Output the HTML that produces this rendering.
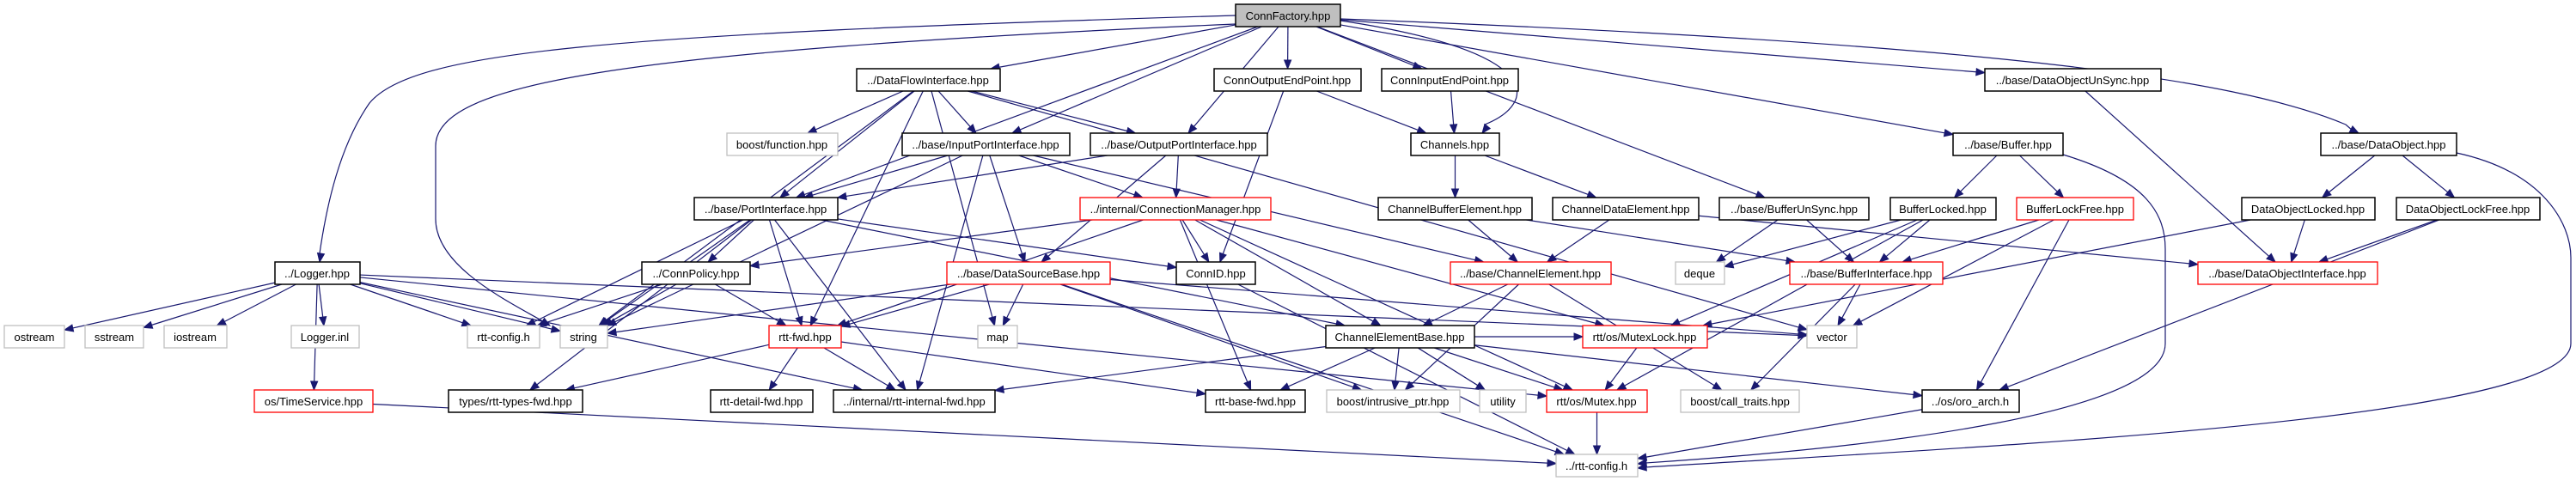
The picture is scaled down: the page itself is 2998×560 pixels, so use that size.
<!DOCTYPE html>
<html><head><meta charset="utf-8"><style>
html,body{margin:0;padding:0;background:#fff;}
svg{display:block;}
text{font-family:"Liberation Sans",sans-serif;font-size:13px;fill:#000;}
</style></head><body>
<svg id="g" width="2998" height="560" viewBox="0 0 2998 560" xmlns="http://www.w3.org/2000/svg">
<g id="edges"></g>
<g id="nodes">
<g id="cf" data-t="f"><rect x="1438" y="5" width="122" height="26"/><text x="1499" y="23" text-anchor="middle">ConnFactory.hpp</text></g>
<g id="dfi"><rect x="997" y="80" width="167" height="26"/><text x="1080" y="98" text-anchor="middle">../DataFlowInterface.hpp</text></g>
<g id="coep"><rect x="1413" y="80" width="171" height="26"/><text x="1498" y="98" text-anchor="middle">ConnOutputEndPoint.hpp</text></g>
<g id="ciep"><rect x="1608" y="80" width="159" height="26"/><text x="1687" y="98" text-anchor="middle">ConnInputEndPoint.hpp</text></g>
<g id="dous"><rect x="2310" y="80" width="205" height="26"/><text x="2412" y="98" text-anchor="middle">../base/DataObjectUnSync.hpp</text></g>
<g id="bfn" data-t="g"><rect x="846" y="155" width="129" height="26"/><text x="910" y="173" text-anchor="middle">boost/function.hpp</text></g>
<g id="ipi"><rect x="1050" y="155" width="195" height="26"/><text x="1147" y="173" text-anchor="middle">../base/InputPortInterface.hpp</text></g>
<g id="opi"><rect x="1269" y="155" width="206" height="26"/><text x="1372" y="173" text-anchor="middle">../base/OutputPortInterface.hpp</text></g>
<g id="chs"><rect x="1642" y="155" width="103" height="26"/><text x="1693" y="173" text-anchor="middle">Channels.hpp</text></g>
<g id="buf"><rect x="2273" y="155" width="128" height="26"/><text x="2337" y="173" text-anchor="middle">../base/Buffer.hpp</text></g>
<g id="dob"><rect x="2701" y="155" width="158" height="26"/><text x="2780" y="173" text-anchor="middle">../base/DataObject.hpp</text></g>
<g id="pi"><rect x="808" y="230" width="167" height="26"/><text x="891" y="248" text-anchor="middle">../base/PortInterface.hpp</text></g>
<g id="cm" data-t="r"><rect x="1257" y="230" width="222" height="26"/><text x="1368" y="248" text-anchor="middle">../internal/ConnectionManager.hpp</text></g>
<g id="cbe"><rect x="1604" y="230" width="179" height="26"/><text x="1693" y="248" text-anchor="middle">ChannelBufferElement.hpp</text></g>
<g id="cde"><rect x="1807" y="230" width="170" height="26"/><text x="1892" y="248" text-anchor="middle">ChannelDataElement.hpp</text></g>
<g id="bus"><rect x="2001" y="230" width="174" height="26"/><text x="2088" y="248" text-anchor="middle">../base/BufferUnSync.hpp</text></g>
<g id="bl"><rect x="2200" y="230" width="123" height="26"/><text x="2261" y="248" text-anchor="middle">BufferLocked.hpp</text></g>
<g id="blf" data-t="r"><rect x="2347" y="230" width="136" height="26"/><text x="2415" y="248" text-anchor="middle">BufferLockFree.hpp</text></g>
<g id="dol"><rect x="2609" y="230" width="155" height="26"/><text x="2686" y="248" text-anchor="middle">DataObjectLocked.hpp</text></g>
<g id="dolf"><rect x="2789" y="230" width="167" height="26"/><text x="2872" y="248" text-anchor="middle">DataObjectLockFree.hpp</text></g>
<g id="logger"><rect x="320" y="305" width="99" height="26"/><text x="369" y="323" text-anchor="middle">../Logger.hpp</text></g>
<g id="cp"><rect x="747" y="305" width="126" height="26"/><text x="810" y="323" text-anchor="middle">../ConnPolicy.hpp</text></g>
<g id="dsb" data-t="r"><rect x="1102" y="305" width="190" height="26"/><text x="1197" y="323" text-anchor="middle">../base/DataSourceBase.hpp</text></g>
<g id="cid"><rect x="1369" y="305" width="92" height="26"/><text x="1415" y="323" text-anchor="middle">ConnID.hpp</text></g>
<g id="ce" data-t="r"><rect x="1688" y="305" width="187" height="26"/><text x="1781" y="323" text-anchor="middle">../base/ChannelElement.hpp</text></g>
<g id="deque" data-t="g"><rect x="1950" y="305" width="57" height="26"/><text x="1978" y="323" text-anchor="middle">deque</text></g>
<g id="bi" data-t="r"><rect x="2083" y="305" width="178" height="26"/><text x="2172" y="323" text-anchor="middle">../base/BufferInterface.hpp</text></g>
<g id="doi" data-t="r"><rect x="2558" y="305" width="209" height="26"/><text x="2662" y="323" text-anchor="middle">../base/DataObjectInterface.hpp</text></g>
<g id="ostream" data-t="g"><rect x="5" y="379" width="70" height="26"/><text x="40" y="397" text-anchor="middle">ostream</text></g>
<g id="sstream" data-t="g"><rect x="99" y="379" width="68" height="26"/><text x="133" y="397" text-anchor="middle">sstream</text></g>
<g id="iostream" data-t="g"><rect x="191" y="379" width="73" height="26"/><text x="227" y="397" text-anchor="middle">iostream</text></g>
<g id="linl" data-t="g"><rect x="339" y="379" width="79" height="26"/><text x="378" y="397" text-anchor="middle">Logger.inl</text></g>
<g id="rcfg" data-t="g"><rect x="544" y="379" width="84" height="26"/><text x="586" y="397" text-anchor="middle">rtt-config.h</text></g>
<g id="string" data-t="g"><rect x="652" y="379" width="55" height="26"/><text x="679" y="397" text-anchor="middle">string</text></g>
<g id="rfwd" data-t="r"><rect x="895" y="379" width="84" height="26"/><text x="937" y="397" text-anchor="middle">rtt-fwd.hpp</text></g>
<g id="map" data-t="g"><rect x="1138" y="379" width="46" height="26"/><text x="1161" y="397" text-anchor="middle">map</text></g>
<g id="ceb"><rect x="1543" y="379" width="173" height="26"/><text x="1629" y="397" text-anchor="middle">ChannelElementBase.hpp</text></g>
<g id="ml" data-t="r"><rect x="1842" y="379" width="145" height="26"/><text x="1914" y="397" text-anchor="middle">rtt/os/MutexLock.hpp</text></g>
<g id="vector" data-t="g"><rect x="2103" y="379" width="58" height="26"/><text x="2132" y="397" text-anchor="middle">vector</text></g>
<g id="ts" data-t="r"><rect x="296" y="454" width="138" height="26"/><text x="365" y="472" text-anchor="middle">os/TimeService.hpp</text></g>
<g id="rtf"><rect x="522" y="454" width="156" height="26"/><text x="600" y="472" text-anchor="middle">types/rtt-types-fwd.hpp</text></g>
<g id="rdf"><rect x="827" y="454" width="119" height="26"/><text x="886" y="472" text-anchor="middle">rtt-detail-fwd.hpp</text></g>
<g id="rif"><rect x="970" y="454" width="188" height="26"/><text x="1064" y="472" text-anchor="middle">../internal/rtt-internal-fwd.hpp</text></g>
<g id="rbf"><rect x="1403" y="454" width="116" height="26"/><text x="1461" y="472" text-anchor="middle">rtt-base-fwd.hpp</text></g>
<g id="bip" data-t="g"><rect x="1544" y="454" width="155" height="26"/><text x="1621" y="472" text-anchor="middle">boost/intrusive_ptr.hpp</text></g>
<g id="util" data-t="g"><rect x="1722" y="454" width="54" height="26"/><text x="1749" y="472" text-anchor="middle">utility</text></g>
<g id="mx" data-t="r"><rect x="1800" y="454" width="117" height="26"/><text x="1858" y="472" text-anchor="middle">rtt/os/Mutex.hpp</text></g>
<g id="bct" data-t="g"><rect x="1956" y="454" width="138" height="26"/><text x="2025" y="472" text-anchor="middle">boost/call_traits.hpp</text></g>
<g id="oro"><rect x="2237" y="454" width="113" height="26"/><text x="2293" y="472" text-anchor="middle">../os/oro_arch.h</text></g>
<g id="rcfg2" data-t="g"><rect x="1811" y="529" width="95" height="26"/><text x="1858" y="547" text-anchor="middle">../rtt-config.h</text></g>
</g>
</svg>
<script>
(function(){
var NS="http://www.w3.org/2000/svg";
var B={};
document.querySelectorAll('#nodes > g').forEach(function(g){
  var r=g.querySelector('rect'),t=g.getAttribute('data-t');
  var x=+r.getAttribute('x'),y=+r.getAttribute('y'),w=+r.getAttribute('width'),h=+r.getAttribute('height');
  B[g.id]={x1:x,y1:y,x2:x+w,y2:y+h,cx:x+w/2,cy:y+h/2,hw:w/2,hh:h/2};
  if(t==='g'){r.setAttribute('fill','#fff');r.setAttribute('stroke','#bfbfbf');r.setAttribute('stroke-width','1.3');}
  else if(t==='r'){r.setAttribute('fill','#fff');r.setAttribute('stroke','#ff0000');r.setAttribute('stroke-width','1.3');}
  else if(t==='f'){r.setAttribute('fill','#bfbfbf');r.setAttribute('stroke','#000');r.setAttribute('stroke-width','1.5');}
  else {r.setAttribute('fill','#fff');r.setAttribute('stroke','#000');r.setAttribute('stroke-width','1.5');}
});
var E=document.getElementById('edges');
var C='#191970';
function clip(b,dx,dy){var tx=dx?b.hw/Math.abs(dx):1e9,ty=dy?b.hh/Math.abs(dy):1e9;var t=Math.min(tx,ty);return [b.cx+dx*t,b.cy+dy*t];}
function arrow(px,py,ex,ey){
  var dx=ex-px,dy=ey-py,l=Math.hypot(dx,dy)||1;dx/=l;dy/=l;
  var bx=ex-dx*10,by=ey-dy*10;
  var p=document.createElementNS(NS,'polygon');
  p.setAttribute('points',ex+','+ey+' '+(bx-dy*4)+','+(by+dx*4)+' '+(bx+dy*4)+','+(by-dx*4));
  p.setAttribute('fill',C);p.setAttribute('stroke',C);E.appendChild(p);
  return [bx,by];
}
function path(d){var p=document.createElementNS(NS,'path');p.setAttribute('d',d);p.setAttribute('fill','none');p.setAttribute('stroke',C);p.setAttribute('stroke-width','1.2');E.appendChild(p);}
function e(a,b){
  var A=B[a],Bb=B[b];var dx=Bb.cx-A.cx,dy=Bb.cy-A.cy;
  var s=clip(A,dx,dy),t=clip(Bb,-dx,-dy);
  var k=arrow(s[0],s[1],t[0],t[1]);
  path('M'+s[0]+','+s[1]+' L'+k[0]+','+k[1]);
}
function cp(d,px,py,ex,ey){var k=arrow(px,py,ex,ey);path(d+' '+k[0]+','+k[1]);}
var L=[
['cf','dfi'],['cf','ipi'],['cf','opi'],['cf','coep'],['cf','ciep'],['cf','bus'],['cf','dous'],['cf','buf'],['cf','pi'],
['dfi','bfn'],['dfi','ipi'],['dfi','opi'],['dfi','pi'],['dfi','map'],['dfi','string'],['dfi','rfwd'],['dfi','vector'],
['coep','chs'],['coep','cid'],['ciep','chs'],
['chs','cbe'],['chs','cde'],
['cbe','ce'],['cbe','bi'],['cde','ce'],['cde','doi'],
['bus','deque'],['bus','bi'],
['bl','deque'],['bl','bi'],['bl','ml'],['bl','mx'],
['blf','bi'],['blf','vector'],['blf','oro'],
['buf','bl'],['buf','blf'],
['dob','dol'],['dob','dolf'],
['dol','doi'],['dol','ml'],['dolf','doi'],['dolf','oro'],['dous','doi'],
['bi','vector'],['bi','bct'],
['ce','ceb'],['ce','bip'],['ce','bct'],
['ceb','rbf'],['ceb','bip'],['ceb','util'],['ceb','mx'],['ceb','ml'],['ceb','oro'],['ceb','rif'],
['ml','mx'],['mx','rcfg2'],['oro','rcfg2'],['cid','rcfg2'],
['dsb','rfwd'],['dsb','map'],['dsb','string'],['dsb','rcfg2'],['dsb','bip'],['dsb','vector'],
['rfwd','rdf'],['rfwd','rif'],['rfwd','rbf'],['rfwd','rtf'],
['pi','cp'],['pi','rfwd'],['pi','string'],['pi','rtf'],['pi','cid'],['pi','ceb'],['pi','rif'],['pi','rcfg'],
['cp','string'],['cp','rcfg'],['cp','rfwd'],
['cm','cid'],['cm','ceb'],['cm','cp'],['cm','ml'],['cm','mx'],['cm','rfwd'],['cm','rbf'],
['ipi','pi'],['ipi','dsb'],['ipi','cm'],['ipi','rif'],['ipi','string'],['ipi','ce'],
['opi','pi'],['opi','dsb'],['opi','cm'],
['logger','ostream'],['logger','sstream'],['logger','iostream'],['logger','linl'],['logger','rcfg'],['logger','string'],['logger','ts'],['logger','vector'],['logger','mx'],['logger','rif'],
['ts','rcfg2']
];
L.forEach(function(x){e(x[0],x[1]);});
cp('M1438,18 C700,40 480,60 430,120 C395,170 380,240 372,295 L',375,285,372,305);
cp('M1438,28 C700,60 507,100 507,170 L507,255 C507,310 590,350',600,355,640,379);
cp('M1560,24 C1800,60 1790,120 1728,145 L',1735,142,1725,155);
cp('M1560,22 C2300,50 2600,90 2730,145 L',2720,142,2745,155);
cp('M2401,180 C2500,210 2520,250 2520,290 L2520,400 C2520,480 2200,520',2000,530,1906,540);
cp('M2859,178 C2960,200 2992,260 2992,300 L2992,400 C2992,490 2300,520',2000,535,1906,545);
})();
</script>
</body></html>
